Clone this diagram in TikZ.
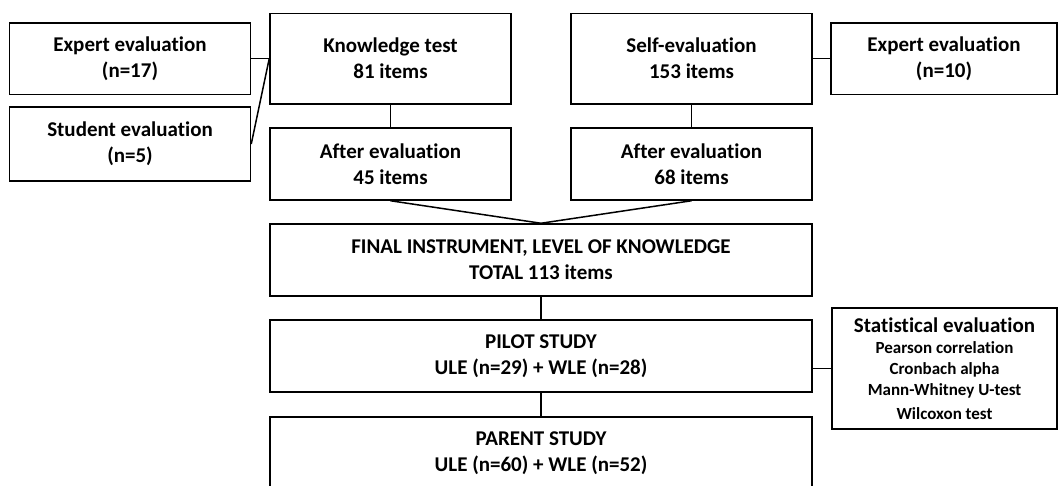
\documentclass[tikz,border=0pt]{standalone}
\usepackage{fontspec}
\setmainfont{Carlito}[Ligatures=NoCommon]

\begin{document}
\begin{tikzpicture}[x=1pt,y=-1pt,line width=1.5pt,
    box/.style={draw,inner sep=0pt,align=center,
                font=\fontsize{21}{26}\selectfont\bfseries},
    smallbox/.style={box,minimum width=241pt,minimum height=72pt},
    widebox/.style={box,minimum width=542pt,minimum height=72pt}]
    \path [use as bounding box,clip] (0,0) rectangle (1059,485);
    % left branch
    \node [smallbox,minimum height=71.5pt] (expA) at (130,58.5) {Expert evaluation\\(n=17)};
    \node [smallbox,minimum height=74pt]   (stud) at (130,144) {Student evaluation\\(n=5)};
    \node [smallbox,minimum height=90.5pt] (know) at (390.5,58.5) {Knowledge test\\81 items};
    \node [smallbox] (aftK) at (390.5,164) {After evaluation\\45 items};
    % right branch
    \node [smallbox,minimum height=90.5pt] (self) at (691.5,58.5) {Self-evaluation\\153 items};
    \node [smallbox] (aftS) at (691.5,164) {After evaluation\\68 items};
    \node [smallbox,minimum width=226pt,minimum height=71.5pt] (expB) at (944,58.5) {Expert evaluation\\(n=10)};
    % main column
    \node [widebox] (final)  at (541,260) {FINAL INSTRUMENT, LEVEL OF KNOWLEDGE\\TOTAL 113 items};
    \node [widebox] (pilot)  at (541,356) {PILOT STUDY\\ULE (n=29) + WLE (n=28)};
    \node [widebox] (parent) at (541,453) {PARENT STUDY\\ULE (n=60) + WLE (n=52)};
    \node [box,minimum width=225pt,minimum height=121pt,
           font=\fontsize{17}{21}\selectfont\bfseries] (stat) at (944.5,368.5)
          {{\fontsize{21}{26}\selectfont Statistical evaluation}\\Pearson correlation\\
           Cronbach alpha\\Mann-Whitney U-test\\[3pt]Wilcoxon test};

    \draw (expA.east) -- (know.west);
    \draw (stud.east) -- (know.west);
    \draw (know) -- (aftK);
    \draw (self) -- (expB);
    \draw (self) -- (aftS);
    \draw (aftK.south) -- (final.north) -- (aftS.south);
    \draw (final) -- (pilot) -- (parent);
    \draw (stat.west) -- (stat.west -| pilot.east);
\end{tikzpicture}
\end{document}
